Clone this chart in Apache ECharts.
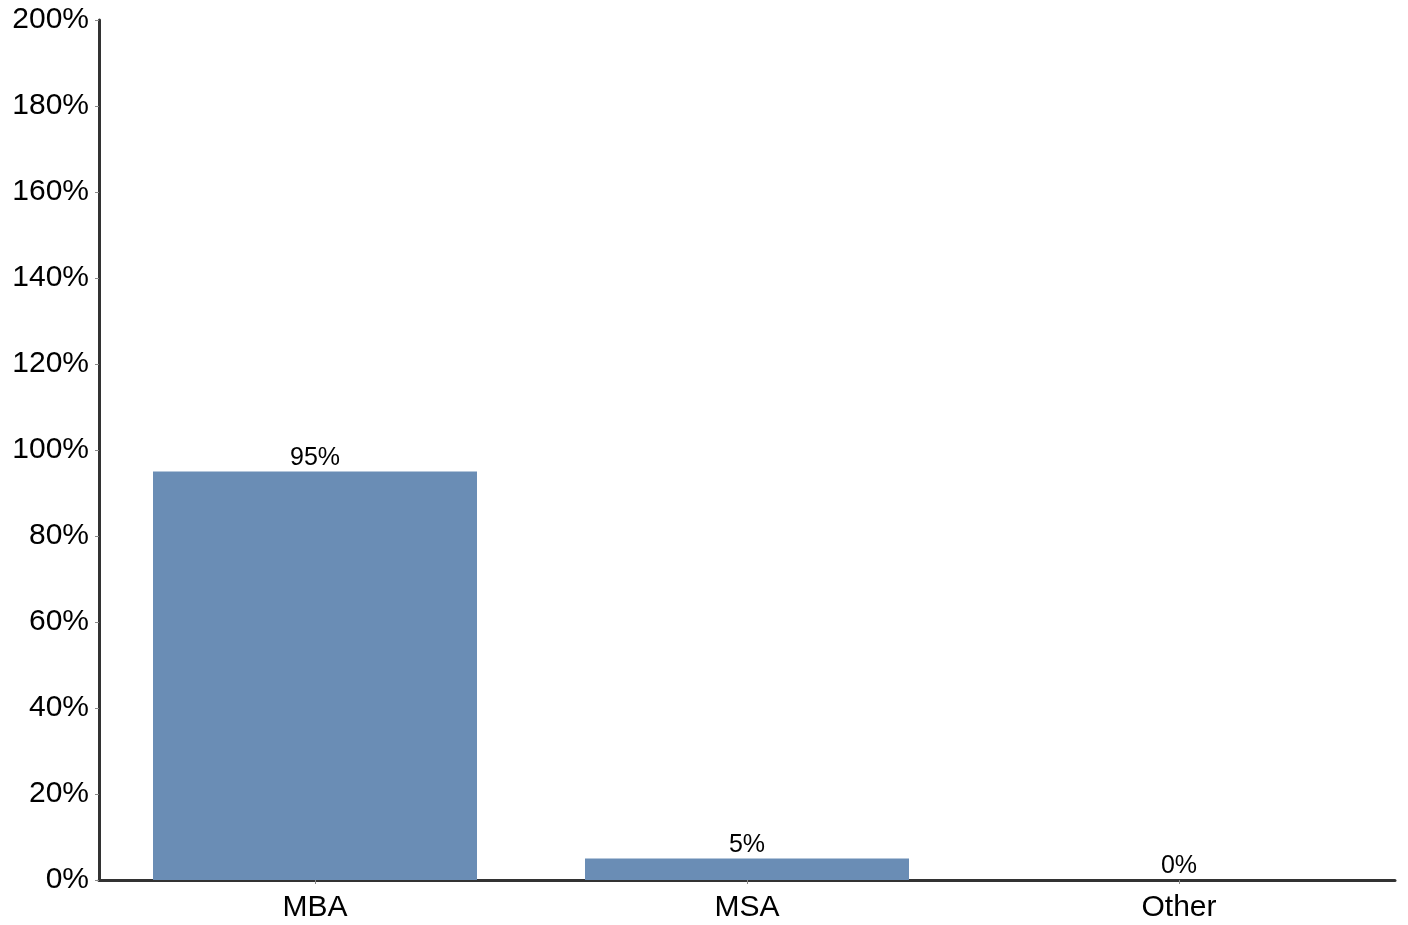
<!DOCTYPE html>
<html>
<head>
<meta charset="utf-8">
<script src="https://cdn.jsdelivr.net/npm/echarts@6/dist/echarts.min.js"></script>
<style>
html,body{margin:0;padding:0;background:#fff;}
#chart{width:1408px;height:925px;}
</style>
</head>
<body>
<div id="chart"></div>
<script>
const categories = ["MBA", "MSA", "Other"];
const values = [95, 5, 0];
const yTicks = [0, 20, 40, 60, 80, 100, 120, 140, 160, 180, 200];

const chart = echarts.init(document.getElementById('chart'), null, {renderer: 'canvas'});
chart.setOption({
  animation: false,
  grid: {left: 99, right: 13, top: 20, bottom: 45, containLabel: false},
  xAxis: {
    type: 'category',
    data: categories,
    axisLine: {lineStyle: {color: '#333', width: 3}},
    axisTick: {show: true, alignWithLabel: true, length: 4, lineStyle: {color: '#888', width: 1}},
    axisLabel: {color: '#000', fontSize: 30, fontFamily: 'Liberation Sans, Arial, sans-serif', margin: 13}
  },
  yAxis: {
    type: 'value',
    min: yTicks[0],
    max: yTicks[yTicks.length - 1],
    interval: 20,
    axisLine: {show: true, lineStyle: {color: '#333', width: 3}},
    axisTick: {show: true, length: 4, lineStyle: {color: '#888', width: 1}},
    splitLine: {show: false},
    axisLabel: {color: '#000', fontSize: 30, fontFamily: 'Liberation Sans, Arial, sans-serif', margin: 10,
      padding: [6, 0, 0, 0],
      formatter: v => v + '%'}
  },
  series: [{
    type: 'bar',
    data: values,
    barCategoryGap: '25%',
    itemStyle: {color: '#6a8db5'},
    label: {show: true, position: 'top', distance: 1, color: '#000', fontSize: 25,
      fontFamily: 'Liberation Sans, Arial, sans-serif', formatter: p => p.value + '%'}
  }]
});
</script>
</body>
</html>
